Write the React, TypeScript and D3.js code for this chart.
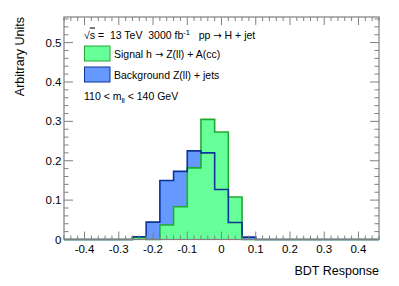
import * as d3 from 'd3';
import React, { useEffect, useRef } from 'react';

// bin edges of the BDT histogram
const binEdges = [-0.26, -0.22, -0.18, -0.14, -0.1, -0.06, -0.02, 0.02, 0.06, 0.1];
// normalised bin contents
const signalValues = [0.005, 0, 0.037, 0.083, 0.182, 0.305, 0.273, 0.108, 0];
const backgroundValues = [0.007, 0.044, 0.15, 0.173, 0.225, 0.22, 0.127, 0.043, 0.006];

const xTicks = [-0.4, -0.3, -0.2, -0.1, 0, 0.1, 0.2, 0.3, 0.4];
const yTicks = [0, 0.1, 0.2, 0.3, 0.4, 0.5];

const FONT = '"Liberation Sans", Arial, Helvetica, sans-serif';
const ARROW_FONT = '"DejaVu Sans", sans-serif';
const NB = '\u00a0';

const App: React.FC = () => {
  const ref = useRef<SVGSVGElement | null>(null);

  useEffect(() => {
    if (!ref.current) return;
    const svg = d3.select(ref.current);
    svg.selectAll('*').remove();

    const x = d3.scaleLinear().domain([-0.46, 0.46]).range([64, 379]);
    const y = d3.scaleLinear().domain([0, 0.565]).range([239.5, 17]);
    const [x0, x1] = x.range();
    const [yb, yt] = y.range();

    // histogram points for step curves (zero outside the filled bins)
    const toPoints = (vals: number[]) => {
      const pts = [{ x: x.domain()[0], v: 0 }];
      vals.forEach((v, i) => pts.push({ x: binEdges[i], v }));
      pts.push({ x: binEdges[binEdges.length - 1], v: 0 });
      pts.push({ x: x.domain()[1], v: 0 });
      return pts;
    };

    const area = d3
      .area<{ x: number; v: number }>()
      .x((d) => x(d.x))
      .y0(yb)
      .y1((d) => y(d.v))
      .curve(d3.curveStepAfter);
    const line = d3
      .line<{ x: number; v: number }>()
      .x((d) => x(d.x))
      .y((d) => y(d.v))
      .curve(d3.curveStepAfter);

    const bg = toPoints(backgroundValues);
    const sig = toPoints(signalValues);

    svg.append('path').attr('d', area(bg)).attr('fill', '#6699ff');
    svg.append('path').attr('d', area(sig)).attr('fill', '#66ff99');
    svg
      .append('path')
      .attr('d', line(sig))
      .attr('fill', 'none')
      .attr('stroke', '#22aa33')
      .attr('stroke-width', 1.6);
    svg
      .append('path')
      .attr('d', line(bg))
      .attr('fill', 'none')
      .attr('stroke', '#0d3399')
      .attr('stroke-width', 1.6);

    // frame
    const axisCol = '#808080';
    svg
      .append('rect')
      .attr('x', x0)
      .attr('y', yt)
      .attr('width', x1 - x0)
      .attr('height', yb - yt)
      .attr('fill', 'none')
      .attr('stroke', axisCol)
      .attr('stroke-width', 1.2);

    const ticks = svg.append('g').attr('stroke', axisCol).attr('stroke-width', 1);
    // x ticks (major 0.1, minor 0.02), bottom and top
    d3.range(-46, 47, 2).forEach((k) => {
      const v = k / 100;
      const major = k % 10 === 0;
      const len = major ? 8 : 4;
      const px = x(v);
      ticks.append('line').attr('x1', px).attr('x2', px).attr('y1', yb).attr('y2', yb - len);
      ticks.append('line').attr('x1', px).attr('x2', px).attr('y1', yt).attr('y2', yt + len);
    });
    // y ticks, left and right
    d3.range(0, 57, 2).forEach((k) => {
      const v = k / 100;
      if (v > y.domain()[1]) return;
      const major = k % 10 === 0;
      const len = major ? 9 : 4.5;
      const py = y(v);
      ticks.append('line').attr('x1', x0).attr('x2', x0 + len).attr('y1', py).attr('y2', py);
      ticks.append('line').attr('x1', x1).attr('x2', x1 - len).attr('y1', py).attr('y2', py);
    });

    // tick labels
    svg
      .append('g')
      .selectAll('text')
      .data(xTicks)
      .enter()
      .append('text')
      .attr('x', (d) => x(d))
      .attr('y', 253)
      .attr('text-anchor', 'middle')
      .attr('font-family', FONT)
      .attr('font-size', 11.5)
      .text((d) => (d === 0 ? '0' : d3.format('.1f')(d).replace('−', '-')));

    svg
      .append('g')
      .selectAll('text')
      .data(yTicks)
      .enter()
      .append('text')
      .attr('x', 61.5)
      .attr('y', (d) => y(d) + 4)
      .attr('text-anchor', 'end')
      .attr('font-family', FONT)
      .attr('font-size', 11.5)
      .text((d) => (d === 0 ? '0' : d3.format('.1f')(d)));

    // axis titles
    svg
      .append('text')
      .attr('x', 379)
      .attr('y', 275)
      .attr('text-anchor', 'end')
      .attr('font-family', FONT)
      .attr('font-size', 12.5)
      .text('BDT Response');

    svg
      .append('text')
      .attr('transform', 'translate(24,17) rotate(-90)')
      .attr('text-anchor', 'end')
      .attr('font-family', FONT)
      .attr('font-size', 12.5)
      .text('Arbitrary Units');

    // legend / labels
    const lg = svg.append('g').attr('font-family', FONT).attr('font-size', 10.5);

    const t1 = lg.append('text').attr('x', 84).attr('y', 38.5);
    t1.append('tspan').text('√');
    t1.append('tspan').text('s').style('text-decoration', 'overline');
    t1.append('tspan').text(`${NB}=${NB}${NB}13 TeV${NB}${NB}3000 fb`);
    t1.append('tspan').attr('font-size', 7.5).attr('dy', -4).text('-1');
    t1.append('tspan').attr('dy', 4).text(`${NB}${NB}${NB}pp${NB}`);
    t1.append('tspan').attr('font-family', ARROW_FONT).attr('font-size', 10).text('→');
    t1.append('tspan').text(`${NB}H + jet`);

    lg.append('rect')
      .attr('x', 84.5)
      .attr('y', 46)
      .attr('width', 25.5)
      .attr('height', 15)
      .attr('fill', '#66ff99')
      .attr('stroke', '#22aa33')
      .attr('stroke-width', 1);
    const t2 = lg.append('text').attr('x', 114).attr('y', 57.5);
    t2.append('tspan').text(`Signal h${NB}`);
    t2.append('tspan').attr('font-family', ARROW_FONT).attr('font-size', 10).text('→');
    t2.append('tspan').text(`${NB}Z(ll) + A(cc)`);

    lg.append('rect')
      .attr('x', 84.5)
      .attr('y', 67)
      .attr('width', 25.5)
      .attr('height', 15)
      .attr('fill', '#6699ff')
      .attr('stroke', '#0d3399')
      .attr('stroke-width', 1);
    lg.append('text').attr('x', 114).attr('y', 78.5).text('Background Z(ll) + jets');

    const t4 = lg.append('text').attr('x', 84).attr('y', 100);
    t4.append('tspan').text('110 < m');
    t4.append('tspan').attr('font-size', 7.5).attr('dy', 3).text('ll');
    t4.append('tspan').attr('dy', -3).text(`${NB}< 140 GeV`);
  }, []);

  return (
    <svg
      ref={ref}
      width={399}
      height={286}
      style={{ position: 'absolute', left: 0, top: 0, background: '#fff' }}
    />
  );
};

export default App;
